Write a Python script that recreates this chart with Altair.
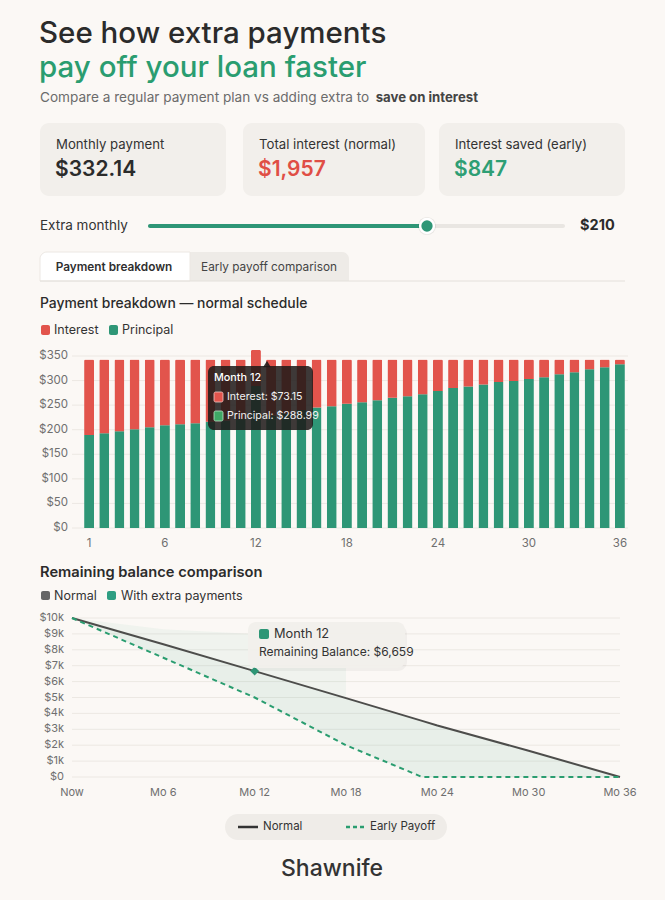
import altair as alt
import pandas as pd

W, H = 665, 900
BG = "#FBF8F5"
INK = "#2B2B2B"
SUB = "#6B6B6B"
AXIS_TXT = "#6F6F6F"
GRID = "#ECE8E3"
GREEN = "#2E9676"
GREEN_TXT = "#2A9D70"
RED = "#E2544C"
CARD = "#F2EFEB"
FONT = "Inter"

# ---- Payment breakdown, normal schedule (months 1..36) ----
months = list(range(1, 37))
principal = [189, 193, 197, 201, 205, 209, 211, 213, 216, 219, 222, 288.99,
             229, 233, 240, 245, 248, 253, 256, 260, 265, 268, 272, 279,
             285, 288, 292, 297, 299, 303, 307, 313, 317, 323, 327, 333]
interest = [154, 150, 146, 142, 138, 134, 132, 130, 127, 124, 121, 73.15,
            114, 110, 103, 98, 95, 90, 87, 83, 78, 75, 71, 64,
            58, 55, 51, 46, 44, 40, 36, 30, 26, 20, 16, 10]
bar_x_ticks = [1, 6, 12, 18, 24, 30, 36]
bar_y_ticks = [0, 50, 100, 150, 200, 250, 300, 350]

# ---- Remaining balance comparison ----
bal_months = [0, 6, 12, 18, 23, 24, 30, 36]
bal_normal = [10000, 8350, 6659, 4960, 3530, 3240, 1650, 0]
bal_early = [10000, 7500, 5000, 2000, 0, 0, 0, 0]
hover_months = [0, 6, 12, 18]
hover_top = [10000, 9300, 9000, 8750]
hover_base = [10000, 8350, 6659, 4960]
bal_x_ticks = [0, 6, 12, 18, 24, 30, 36]
bal_x_labels = ["Now", "Mo 6", "Mo 12", "Mo 18", "Mo 24", "Mo 30", "Mo 36"]
bal_y_ticks = list(range(0, 10001, 1000))
bal_y_labels = ["$0"] + [f"${v // 1000}k" for v in bal_y_ticks[1:]]
focus_month = 12
focus_balance = 6659

one = pd.DataFrame({"k": [0]})


def text(s, x, y, size=13, color=INK, weight=400, align="left"):
    return alt.Chart(one).mark_text(
        text=s, fontSize=size, color=color, fontWeight=weight, align=align,
        baseline="middle", font=FONT,
    ).encode(x=alt.value(x), y=alt.value(y))


def box(x1, y1, x2, y2, fill, radius=0, opacity=1.0, **kw):
    return alt.Chart(one).mark_rect(
        fill=fill, cornerRadius=radius, opacity=opacity, **kw
    ).encode(x=alt.value(x1), x2=alt.value(x2), y=alt.value(y1), y2=alt.value(y2))


def hline(x1, x2, y, color, width=1.0, dash=None):
    kw = dict(color=color, strokeWidth=width)
    if dash:
        kw["strokeDash"] = dash
    return alt.Chart(one).mark_rule(**kw).encode(
        x=alt.value(x1), x2=alt.value(x2), y=alt.value(y))


layers = []

# ---- Header ----
layers += [
    text("See how extra payments", 39, 34, size=29.5, weight=500),
    text("pay off your loan faster", 39, 68, size=29.5, weight=500, color=GREEN_TXT),
    text("Compare a regular payment plan vs adding extra to", 40, 98, size=13.6, color=SUB),
    text("save on interest", 478, 98, size=13.2, color="#444444", weight=700, align="right"),
]

# summary cards
cards = [
    (40, 226, "Monthly payment", "$332.14", INK),
    (243, 425, "Total interest (normal)", "$1,957", "#E04E45"),
    (439, 625, "Interest saved (early)", "$847", "#2E9E74"),
]
for x1, x2, label, value, col in cards:
    layers += [
        box(x1, 123, x2, 196, CARD, radius=9),
        text(label, x1 + 16, 145, size=13.2, color="#333333"),
        text(value, x1 + 15, 170, size=21, weight=600, color=col),
    ]

# extra-payment slider
layers += [
    text("Extra monthly", 40, 226, size=13.5, color="#333333"),
    box(148, 224, 565, 228, "#E9E6E2", radius=2),
    box(148, 224, 427, 228, GREEN, radius=2),
    alt.Chart(one).mark_circle(size=330, color="#000000", opacity=0.07).encode(
        x=alt.value(427), y=alt.value(226)),
    alt.Chart(one).mark_circle(size=190, color=GREEN, opacity=1, stroke="white", strokeWidth=2.5).encode(
        x=alt.value(427), y=alt.value(226)),
    text("$210", 580, 226, size=14.5, weight=700, color=INK),
]

# tabs
layers += [
    box(190, 252, 349, 281, "#EEEBE7", cornerRadiusTopRight=7),
    box(40, 252, 190, 281, "#FFFFFF", cornerRadiusTopLeft=7, stroke="#ECE8E3", strokeWidth=1),
    hline(40, 625, 281, "#E4E0DB", 1),
    text("Payment breakdown", 114, 267, size=11.8, weight=600, align="center", color="#2F2F2F"),
    text("Early payoff comparison", 269, 267, size=11.8, align="center", color="#444444"),
]

# bar chart heading + legend
layers += [
    text("Payment breakdown \u2014 normal schedule", 40, 304, size=13.9, weight=500),
    box(41, 325, 50, 335, RED, radius=2),
    text("Interest", 54, 330, size=12.5, color="#333333"),
    box(109, 325, 118, 335, GREEN, radius=2),
    text("Principal", 122, 330, size=12.5, color="#333333"),
]

# ---- Stacked bar chart ----
bars_df = pd.DataFrame({
    "month": months * 2,
    "part": ["Principal"] * len(months) + ["Interest"] * len(months),
    "amount": principal + interest,
    "order": [0] * len(months) + [1] * len(months),
})
xb = alt.Scale(domain=[0.5, 36.5], range=[81.5, 627.5], nice=False, zero=False, padding=0)
yb = alt.Scale(domain=[0, 350], range=[528, 356], nice=False)

bar_grid = alt.Chart(pd.DataFrame({"v": bar_y_ticks})).mark_rule(
    color=GRID, strokeWidth=1).encode(
    y=alt.Y("v:Q", scale=yb, axis=None), x=alt.value(72), x2=alt.value(628))
bar_marks = alt.Chart(bars_df).mark_bar(
    size=10, cornerRadiusTopLeft=1.5, cornerRadiusTopRight=1.5).encode(
    x=alt.X("month:Q", scale=xb, axis=None),
    y=alt.Y("amount:Q", scale=yb, stack="zero", axis=None),
    color=alt.Color("part:N", scale=alt.Scale(domain=["Interest", "Principal"], range=[RED, GREEN]), legend=None),
    order=alt.Order("order:Q"),
)
bar_ylab = alt.Chart(pd.DataFrame({"v": bar_y_ticks, "lab": [f"${v}" for v in bar_y_ticks]})).mark_text(
    align="right", baseline="middle", fontSize=11.5, color=AXIS_TXT, font=FONT).encode(
    y=alt.Y("v:Q", scale=yb, axis=None), x=alt.value(68), text="lab:N")
bar_xlab = alt.Chart(pd.DataFrame({"m": bar_x_ticks, "lab": [str(m) for m in bar_x_ticks]})).mark_text(
    align="center", baseline="middle", fontSize=11.5, color=AXIS_TXT, font=FONT).encode(
    x=alt.X("m:Q", scale=xb, axis=None), y=alt.value(544), text="lab:N")
layers.append(alt.layer(bar_grid, bar_marks, bar_ylab, bar_xlab))

# bar hover tooltip
layers += [
    alt.Chart(one).mark_point(shape="triangle-up", filled=True, size=60, color="#1E1A19", opacity=0.88).encode(
        x=alt.value(267), y=alt.value(364)),
    box(208, 366, 313, 430, "#1E1A19", radius=6, opacity=0.86),
    text("Month 12", 214, 378, size=10.8, color="#FFFFFF", weight=500),
    box(214, 392, 223, 402, RED, radius=1.5, stroke="#F3C9C5", strokeWidth=0.8),
    text("Interest: $73.15", 227, 397, size=10.6, color="#F2F2F2"),
    box(214, 411, 223, 421, "#3FA865", radius=1.5, stroke="#BFE3C9", strokeWidth=0.8),
    text("Principal: $288.99", 227, 416, size=10.6, color="#F2F2F2"),
]

# ---- Balance chart heading + legend ----
layers += [
    text("Remaining balance comparison", 40, 573, size=14.7, weight=600),
    box(41, 591, 50, 600, "#666666", radius=2),
    text("Normal", 54, 596, size=12.5, color="#333333"),
    box(107, 591, 116, 600, "#2E9E82", radius=2),
    text("With extra payments", 121, 596, size=12.5, color="#333333"),
]

# ---- Balance line chart ----
bal_df = pd.DataFrame({"month": bal_months, "normal": bal_normal, "early": bal_early})
hover_df = pd.DataFrame({"month": hover_months, "top": hover_top, "base": hover_base})
xl = alt.Scale(domain=[0, 36], range=[72, 620], nice=False, zero=False, padding=0)
yl = alt.Scale(domain=[0, 10000], range=[777, 618], nice=False)

bal_grid = alt.Chart(pd.DataFrame({"v": bal_y_ticks})).mark_rule(
    color=GRID, strokeWidth=1).encode(
    y=alt.Y("v:Q", scale=yl, axis=None), x=alt.value(72), x2=alt.value(620))
bal_hover = alt.Chart(hover_df).mark_area(color=GREEN, opacity=0.05).encode(
    x=alt.X("month:Q", scale=xl, axis=None),
    y=alt.Y("top:Q", scale=yl, axis=None), y2="base:Q")
bal_gap = alt.Chart(bal_df).mark_area(color=GREEN, opacity=0.09).encode(
    x=alt.X("month:Q", scale=xl, axis=None),
    y=alt.Y("normal:Q", scale=yl, axis=None), y2="early:Q")
bal_normal_line = alt.Chart(bal_df).mark_line(color="#4D4D4B", strokeWidth=2).encode(
    x=alt.X("month:Q", scale=xl, axis=None), y=alt.Y("normal:Q", scale=yl, axis=None))
bal_early_line = alt.Chart(bal_df).mark_line(color=GREEN_TXT, strokeWidth=2, strokeDash=[5, 4]).encode(
    x=alt.X("month:Q", scale=xl, axis=None), y=alt.Y("early:Q", scale=yl, axis=None))
bal_focus = alt.Chart(pd.DataFrame({"month": [focus_month], "bal": [focus_balance]})).mark_point(
    shape="diamond", filled=True, size=80, color=GREEN, opacity=1).encode(
    x=alt.X("month:Q", scale=xl, axis=None), y=alt.Y("bal:Q", scale=yl, axis=None))
bal_ylab = alt.Chart(pd.DataFrame({"v": bal_y_ticks, "lab": bal_y_labels})).mark_text(
    align="right", baseline="middle", fontSize=11, color=AXIS_TXT, font=FONT).encode(
    y=alt.Y("v:Q", scale=yl, axis=None), x=alt.value(64), text="lab:N")
bal_xlab = alt.Chart(pd.DataFrame({"m": bal_x_ticks, "lab": bal_x_labels})).mark_text(
    align="center", baseline="middle", fontSize=11, color=AXIS_TXT, font=FONT).encode(
    x=alt.X("m:Q", scale=xl, axis=None), y=alt.value(793), text="lab:N")
layers.append(alt.layer(bal_grid, bal_hover, bal_gap, bal_normal_line, bal_early_line,
                        bal_focus, bal_ylab, bal_xlab))

# balance hover tooltip
layers += [
    box(250, 625, 407, 671, "#000000", radius=9, opacity=0.04),
    box(248, 622, 405, 668, "#F2EFEB", radius=8, opacity=0.97),
    box(259, 629, 269, 639, GREEN, radius=2),
    text("Month 12", 274, 634, size=12.8, color="#333333"),
    text("Remaining Balance: $6,659", 259, 652, size=12, color="#333333"),
]

# ---- Line-style legend + footer ----
layers += [
    box(225, 814, 447, 840, "#EFECE8", radius=13),
    hline(238, 258, 827, "#333333", 2.5),
    text("Normal", 263, 827, size=11.5, color="#333333"),
    hline(346, 364, 827, GREEN_TXT, 2.5, dash=[4, 3]),
    text("Early Payoff", 370, 827, size=11.5, color="#333333"),
    text("Shawnife", 332, 869, size=23, weight=500, color="#333333", align="center"),
]

chart = alt.layer(*layers).resolve_scale(
    x="independent", y="independent", color="independent"
).properties(
    width=W, height=H, padding=0, autosize="none", background=BG
).configure_view(stroke=None)

chart.save("out.html", embed_options={"renderer": "svg", "actions": False})
